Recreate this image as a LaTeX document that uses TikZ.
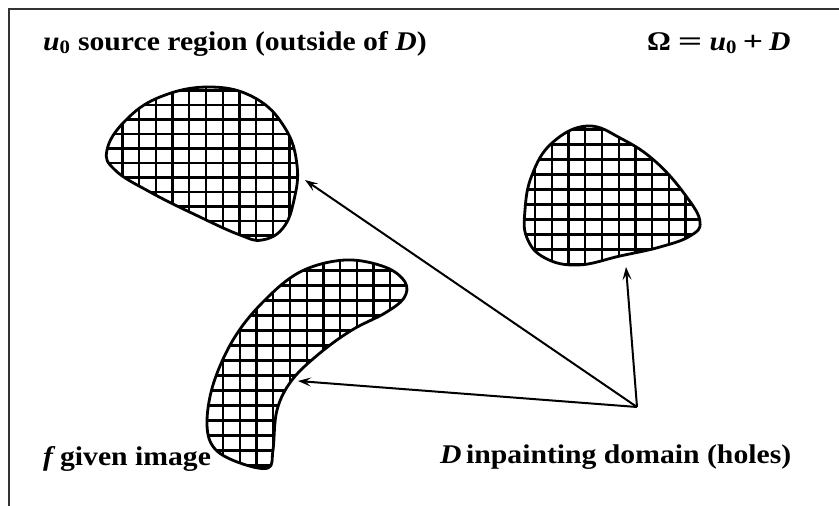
\documentclass[tikz,border=0pt]{standalone}
\usepackage{fontspec}
\setmainfont[FakeStretch=1.1]{Liberation Serif}
\usetikzlibrary{arrows.meta}
\newcommand\hatchgrid[6]{%
  \foreach \gx in {#1,#2,...,#3} \draw[hatchline] (\gx,0) -- (\gx,506);
  \foreach \gy in {#4,#5,...,#6} \draw[hatchline] (0,\gy) -- (839,\gy);
}
\begin{document}
\begin{tikzpicture}[x=1pt,y=-1pt,
  outline/.style={line width=2.8pt, line join=round},
  hatchline/.style={line width=2.3pt},
  arr/.style={line width=2pt, -{Stealth[length=13pt,width=9pt,inset=5.5pt]}},
  lbl/.style={font=\fontsize{27}{30}\selectfont\bfseries, inner sep=0pt, anchor=base west}]
\useasboundingbox (0,0) rectangle (839,506);
\draw[line width=2.2pt, black!80] (9,506) -- (9,9) -- (839,9);

% shape 1 (top-left)
\def\shapeA{plot[smooth cycle, tension=0.7] coordinates {(107,150) (125,121) (160,97) (210,87) (255,98) (285,128) (297,165) (294,200) (283,228) (262,240) (240,235) (200,217) (150,192) (115,170)}}
\begin{scope}
  \clip \shapeA;
  \hatchgrid{122.5}{139.2}{306}{90.5}{105}{250}
\end{scope}
\draw[outline] \shapeA;

% shape 2 (right)
\def\shapeB{plot[smooth cycle, tension=0.7] coordinates {(587,126) (622,139) (656,162) (686,196) (700,222) (690,236) (660,247) (620,256) (578,265) (545,258) (527,238) (525,210) (532,175) (552,143)}}
\begin{scope}
  \clip \shapeB;
  \hatchgrid{518.5}{535.2}{710}{114.5}{129.5}{275}
\end{scope}
\draw[outline] \shapeB;

% shape 3 (crescent)
\def\shapeC{plot[smooth cycle, tension=0.6] coordinates {(405,282) (385,267) (345,260) (300,272) (262,303) (233,340) (213,385) (207,425) (215,449) (240,463) (268,468) (273,450) (277,410) (292,380) (320,353) (352,330) (385,313) (404,298)}}
\begin{scope}
  \clip \shapeC;
  \hatchgrid{206.5}{223.2}{420}{255.5}{270.5}{480}
\end{scope}
\draw[outline] \shapeC;

% connectors
\coordinate (hub) at (637,407);
\coordinate (tipA) at (305,180);
\coordinate (tipC) at (298,381);
\coordinate (tipB) at (626,267);
\draw[arr] (hub) -- (tipA);
\draw[arr] (hub) -- (tipC);
\draw[arr] (hub) -- (tipB);

% labels
\node[lbl] (src) at (43,50) {\textit{u}\textsubscript{0} source region (outside of \textit{D})};
\node[lbl] (omega) at (647,50) {Ω\hspace{7pt}\scalebox{1.45}[1]{=}\hspace{7pt}\textit{u}\textsubscript{0}\hspace{6pt}\scalebox{1.2}[1]{+}\hspace{6pt}\textit{D}};
\node[lbl] (given) at (43,465) {\textit{f}\,given image};
\node[lbl] (dom) at (440,463) {\textit{D}\,inpainting domain (holes)};
\end{tikzpicture}
\end{document}
